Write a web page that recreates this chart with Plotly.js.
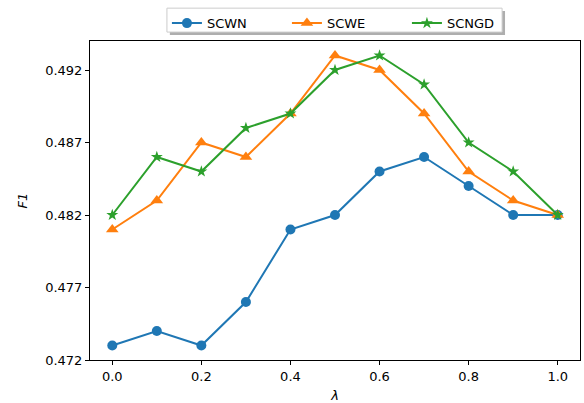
<!DOCTYPE html>
<html><head><meta charset="utf-8">
<script src="https://cdn.plot.ly/plotly-3.0.1.min.js"></script>
<style>body{margin:0;padding:0;background:#fff}#chart{width:584px;height:403px}</style>
</head><body><div id="chart"></div>
<script>
const lambdas = [0.0, 0.1, 0.2, 0.3, 0.4, 0.5, 0.6, 0.7, 0.8, 0.9, 1.0];
const scwn  = [0.473, 0.474, 0.473, 0.476, 0.481, 0.482, 0.485, 0.486, 0.484, 0.482, 0.482];
const scwe  = [0.481, 0.483, 0.487, 0.486, 0.489, 0.493, 0.492, 0.489, 0.485, 0.483, 0.482];
const scngd = [0.482, 0.486, 0.485, 0.488, 0.489, 0.492, 0.493, 0.491, 0.487, 0.485, 0.482];
const yTicks = [0.472, 0.477, 0.482, 0.487, 0.492];
const xTicks = [0.0, 0.2, 0.4, 0.6, 0.8, 1.0];
const xTickText = ['0.0', '0.2', '0.4', '0.6', '0.8', '1.0'];

const font = {family: 'DejaVu Sans', size: 13, color: '#000'};
const traces = [
  {x: lambdas, y: scwn, name: 'SCWN', mode: 'lines+markers',
   line: {color: '#1f77b4', width: 2}, marker: {symbol: 'circle', size: 10, color: '#1f77b4'}},
  {x: lambdas, y: scwe, name: 'SCWE', mode: 'lines+markers',
   line: {color: '#ff7f0e', width: 2}, marker: {symbol: 'triangle-up', size: 11, color: '#ff7f0e'}},
  {x: lambdas, y: scngd, name: 'SCNGD', mode: 'lines+markers',
   line: {color: '#2ca02c', width: 2}, marker: {symbol: 'star', size: 9, color: '#2ca02c'}}
];
const axisCommon = {showline: true, linecolor: '#000', linewidth: 1, mirror: true,
  ticks: 'outside', ticklen: 4, tickcolor: '#000', showgrid: false, zeroline: false, tickfont: font};
const layout = {
  width: 584, height: 403,
  margin: {l: 90, r: 4, t: 41, b: 43},
  paper_bgcolor: '#fff', plot_bgcolor: '#fff',
  font: font,
  showlegend: true,
  legend: {orientation: 'h', x: 0.157, xanchor: 'left', y: 1.103, yanchor: 'top',
    bgcolor: 'rgba(0,0,0,0)', borderwidth: 0, font: font, itemwidth: 30,
    entrywidth: 75, entrywidthmode: 'pixels'},
  xaxis: Object.assign({}, axisCommon, {range: [-0.05, 1.05], tickvals: xTicks, ticktext: xTickText,
    title: {text: 'λ', font: {family: 'DejaVu Sans', size: 13, style: 'italic'}, standoff: 8}}),
  yaxis: Object.assign({}, axisCommon, {range: [0.472, 0.494], tickvals: yTicks, ticktext: yTicks.map(v => v.toFixed(3)),
    title: {text: 'F1', font: {family: 'DejaVu Sans', size: 13, style: 'italic'}, standoff: 14}}),
  shapes: [
    {type: 'rect', xref: 'paper', yref: 'paper', layer: 'above',
      x0: 0.163, x1: 0.847, y0: 1.019, y1: 1.094, line: {width: 0}, fillcolor: 'rgba(120,120,120,0.6)'},
    {type: 'rect', xref: 'paper', yref: 'paper', layer: 'above',
      x0: 0.157, x1: 0.841, y0: 1.028, y1: 1.103, line: {width: 1, color: '#cccccc'}, fillcolor: '#fff'}
  ]
};
Plotly.newPlot('chart', traces, layout, {staticPlot: true});
</script></body></html>
